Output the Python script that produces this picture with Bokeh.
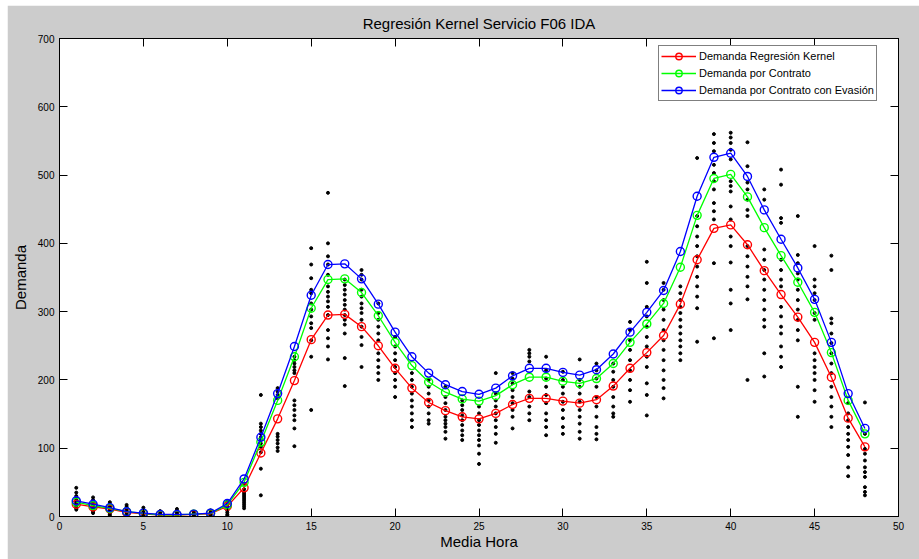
from bokeh.plotting import figure
from bokeh.models import LinearAxis, FixedTicker, Range1d, ColumnDataSource
from bokeh.embed import file_html
from bokeh.resources import INLINE

# ---------------- data ----------------
titulo = "Regresión Kernel Servicio F06 IDA"
etiqueta_x = "Media Hora"
etiqueta_y = "Demanda"
ticks_x = [0, 5, 10, 15, 20, 25, 30, 35, 40, 45, 50]
ticks_y = [0, 100, 200, 300, 400, 500, 600, 700]

media_hora = list(range(1, 49))

demanda_kernel = [18, 14, 11, 6, 4, 2, 2, 3, 4, 15, 42, 93, 143, 199, 259, 295, 296, 278,
                  250, 217, 188, 167, 155, 146, 143, 151, 164, 173, 173, 169, 166, 171,
                  191, 217, 240, 265, 311, 376, 422, 427, 398, 360, 325, 292, 255, 204, 144, 102]

demanda_contrato = [21, 16, 12, 7, 4.5, 2.5, 2.5, 3.5, 4.5, 17, 50, 109, 170, 234, 305, 347, 348, 328,
                    294, 255, 221, 197, 182, 172, 169, 177, 193, 204, 204, 198, 195, 202,
                    224, 255, 282, 312, 365, 441, 495, 501, 468, 423, 382, 343, 299, 240, 170, 121]

demanda_evasion = [23, 18, 13, 7, 5, 3, 3, 3.5, 5, 19, 55, 116, 180, 249, 324, 369, 370, 348,
                   311, 270, 234, 210, 193, 183, 179, 188, 206, 217, 217, 211, 207, 215,
                   238, 270, 299, 331, 388, 469, 526, 532, 498, 449, 406, 364, 318, 255, 180, 129]

# observed demand per half hour (index 0 -> media hora 1)
observaciones = [
    [42, 35, 30, 27, 24, 22, 20, 18, 16, 14, 12, 10],
    [28, 24, 20, 17, 15, 13, 11, 9, 7, 5],
    [21, 18, 15, 13, 11, 9, 7, 5, 3, 1],
    [17, 14, 11, 9, 7, 5, 3, 1],
    [13, 10, 8, 6, 4, 2, 1],
    [8, 5, 3, 2, 1, 0],
    [11, 8, 6, 4, 2, 1, 0],
    [7, 5, 3, 2, 1],
    [9, 6, 4, 3, 2, 1],
    [22, 18, 15, 12, 9, 6, 3, 1],
    [48, 40, 36, 33, 30, 27, 24, 21, 18, 15, 12],
    [178, 136, 131, 126, 121, 116, 112, 107, 102, 94, 70, 31],
    [188, 183, 178, 173, 121, 117, 112, 107, 101, 96],
    [234, 229, 224, 219, 214, 210, 170, 163, 156, 148, 141, 129, 103],
    [393, 369, 349, 332, 327, 312, 303, 293, 283, 276, 258, 234, 156],
    [474, 400, 381, 369, 354, 337, 329, 322, 315, 307, 295, 273, 261, 249, 230],
    [347, 339, 332, 325, 317, 310, 303, 295, 288, 281, 268, 232, 191],
    [361, 354, 347, 332, 322, 312, 305, 298, 288, 278, 263, 251, 219],
    [312, 298, 288, 278, 268, 258, 239, 229, 219, 210, 200],
    [263, 249, 239, 229, 219, 210, 200, 190, 175],
    [210, 200, 190, 180, 170, 161, 151, 141, 131],
    [200, 190, 180, 170, 161, 151, 141, 136],
    [190, 175, 166, 156, 146, 141, 136, 131, 124, 114],
    [170, 163, 156, 148, 141, 134, 126, 119, 112],
    [161, 151, 141, 134, 126, 119, 112, 104, 92, 77],
    [210, 180, 170, 161, 151, 141, 131, 121, 108],
    [210, 202, 195, 185, 175, 166, 156, 146, 129],
    [244, 239, 234, 227, 183, 175, 161, 151, 141],
    [234, 214, 202, 190, 178, 166, 151, 141, 131, 119],
    [212, 200, 190, 180, 168, 156, 144, 131, 121],
    [230, 200, 190, 180, 168, 156, 146, 136, 124, 114],
    [224, 214, 202, 190, 175, 161, 146, 131, 121, 113],
    [224, 212, 200, 190, 175, 161, 151, 146],
    [285, 273, 258, 244, 229, 214, 200, 185, 168],
    [373, 342, 307, 293, 278, 263, 249, 234, 219, 195, 178, 148],
    [342, 332, 317, 303, 288, 273, 258, 244, 229, 214, 200, 188, 173],
    [337, 327, 317, 307, 298, 288, 278, 268, 258, 249, 239, 229],
    [525, 440, 425, 410, 396, 381, 366, 351, 337, 322, 305, 256],
    [560, 547, 535, 515, 503, 491, 479, 459, 447, 435, 371, 261],
    [562, 555, 547, 537, 523, 491, 484, 476, 454, 435, 410, 396, 372, 332, 312, 273],
    [548, 513, 489, 479, 464, 449, 440, 396, 381, 366, 351, 337, 318, 200],
    [479, 464, 391, 376, 361, 347, 332, 317, 303, 288, 278, 239, 205],
    [508, 486, 437, 430, 376, 361, 347, 337, 307, 293, 278, 268, 249, 234, 219],
    [440, 383, 371, 356, 347, 332, 317, 303, 288, 273, 258, 190, 146],
    [396, 347, 337, 327, 317, 298, 288, 239, 229, 219, 210, 200, 185, 168],
    [382, 361, 290, 283, 268, 254, 239, 224, 210, 190, 175, 161, 146, 131],
    [166, 151, 141, 131, 121, 112, 102, 90, 72, 59],
    [167, 121, 99, 92, 82, 72, 65, 58, 43, 36, 31],
]

series = [
    ("Demanda Regresión Kernel", demanda_kernel, "#ff0000"),
    ("Demanda por Contrato", demanda_contrato, "#00ff00"),
    ("Demanda por Contrato con Evasión", demanda_evasion, "#0000ff"),
]

FONT = "Liberation Sans"

# ---------------- figure ----------------
p = figure(width=912, height=554, output_backend="svg", toolbar_location=None,
           x_range=Range1d(0, 50), y_range=Range1d(0, 700),
           min_border_left=52, min_border_right=21, min_border_top=32, min_border_bottom=43,
           title=titulo)
p.margin = (5, 0, 0, 7)
p.background_fill_color = "white"
p.border_fill_color = "#cccccc"
p.outline_line_color = "black"
p.outline_line_width = 1
p.grid.visible = False

p.title.text_font = FONT
p.title.text_font_size = "15px"
p.title.text_font_style = "normal"
p.title.align = "center"
p.title.text_color = "black"
p.title.standoff = 14

bottom_axis = p.below[0]
left_axis = p.left[0]

# observations
obs_x = [h for h, vals in zip(media_hora, observaciones) for _ in vals]
obs_y = [v for vals in observaciones for v in vals]
p.scatter(obs_x, obs_y, size=3, color="black", marker="circle")

for nombre, valores, color in series:
    src = ColumnDataSource(dict(x=media_hora, y=valores))
    p.line("x", "y", source=src, line_color=color, line_width=1.3, legend_label=nombre)
    p.scatter("x", "y", source=src, marker="circle", size=8, fill_color=None,
              line_color=color, line_width=1.4, legend_label=nombre)

# axes
bottom_axis.ticker = FixedTicker(ticks=ticks_x)
left_axis.ticker = FixedTicker(ticks=ticks_y)
bottom_axis.axis_label = etiqueta_x
left_axis.axis_label = etiqueta_y

top_axis = LinearAxis(ticker=FixedTicker(ticks=ticks_x),
                      major_label_overrides={t: "" for t in ticks_x})
right_axis = LinearAxis(ticker=FixedTicker(ticks=ticks_y),
                        major_label_overrides={t: "" for t in ticks_y})
for ax in (top_axis, right_axis):
    ax.major_label_standoff = 0
    ax.major_label_text_font_size = "1px"
p.add_layout(top_axis, "above")
p.add_layout(right_axis, "right")

for ax in (bottom_axis, left_axis, top_axis, right_axis):
    ax.axis_line_color = "black"
    ax.major_tick_line_color = "black"
    ax.major_tick_in = 8
    ax.major_tick_out = 0
    ax.minor_tick_line_color = None
    ax.major_label_text_font = FONT
    ax.major_label_text_color = "black"
    ax.axis_label_text_font = FONT
    ax.axis_label_text_font_style = "normal"
    ax.axis_label_text_color = "black"

for ax in (bottom_axis, left_axis):
    ax.major_label_text_font_size = "10px"
    ax.axis_label_text_font_size = "15px"
    ax.major_label_standoff = 5
bottom_axis.axis_label_standoff = 0
left_axis.axis_label_standoff = 6

# legend
lg = p.legend[0]
lg.location = (599, 415)
lg.label_text_font = FONT
lg.label_text_font_size = "11px"
lg.label_text_color = "black"
lg.glyph_width = 35
lg.glyph_height = 16
lg.label_height = 16
lg.label_standoff = 3
lg.spacing = 1
lg.padding = 2
lg.margin = 0
lg.border_line_color = "black"
lg.border_line_width = 1
lg.background_fill_color = "white"
lg.background_fill_alpha = 1

open("out.html", "w").write(file_html(p, INLINE))
